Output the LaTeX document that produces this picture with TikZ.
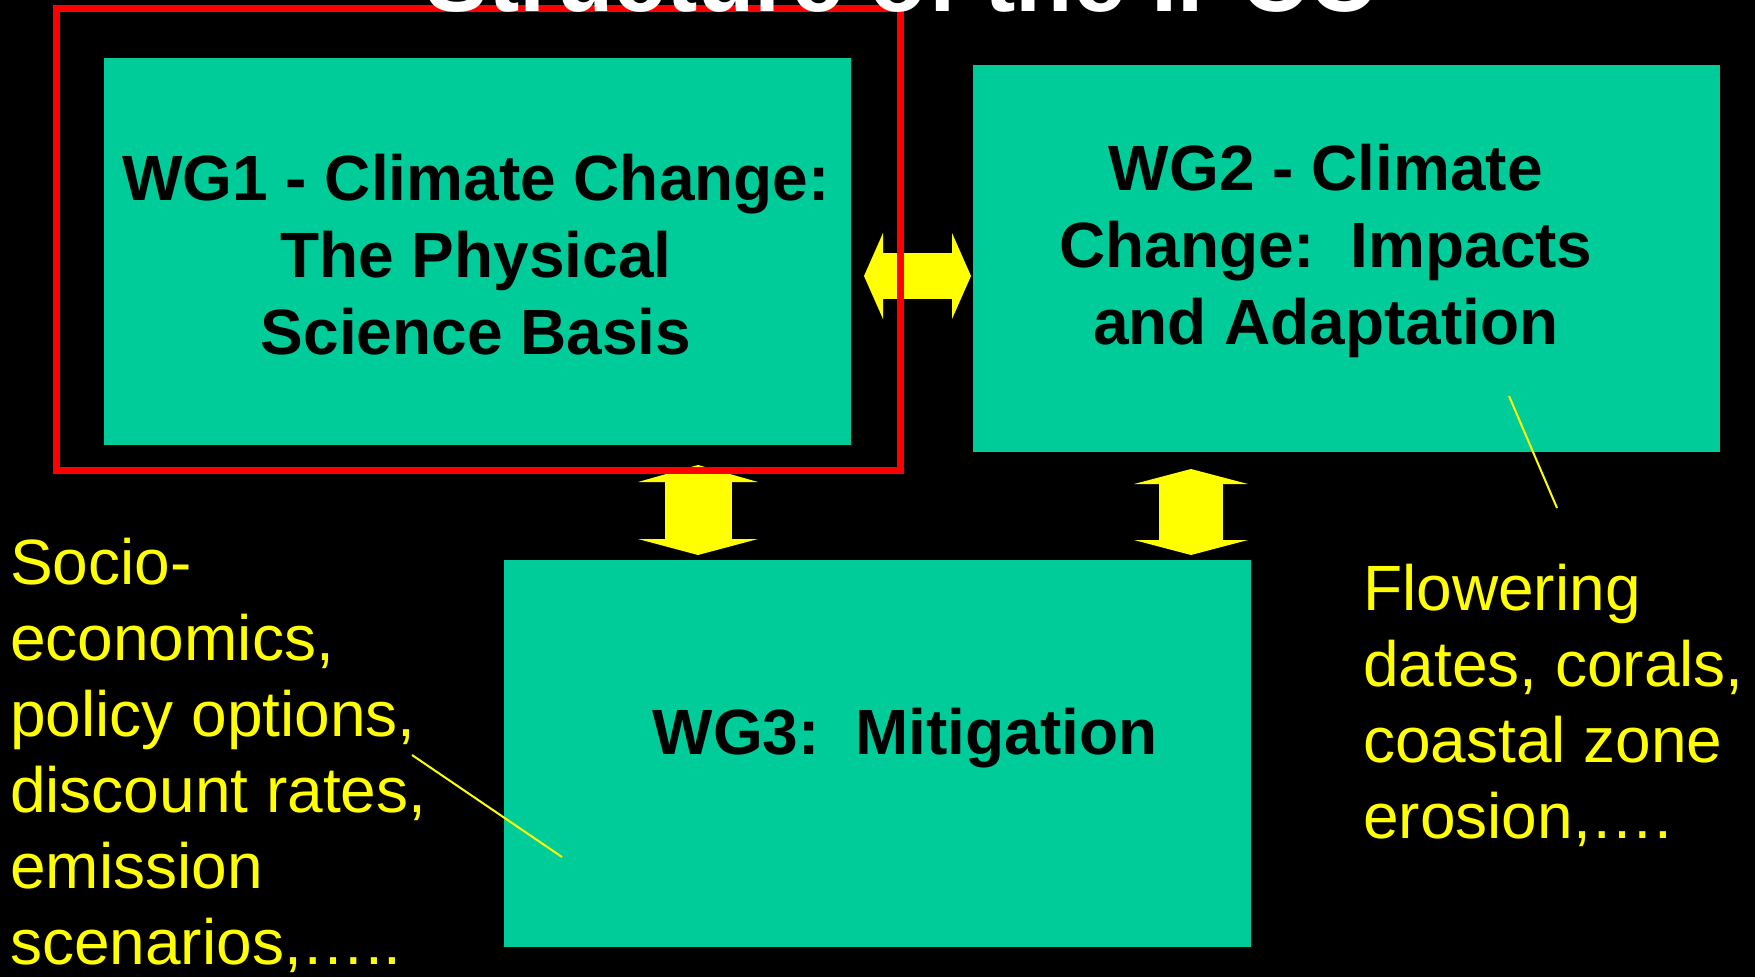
\documentclass[tikz,border=0pt]{standalone}
\usepackage{fontspec}
\setmainfont{Liberation Sans}
\usetikzlibrary{arrows.meta,positioning,calc}
\definecolor{wggreen}{RGB}{0,204,153}
\definecolor{noteyellow}{RGB}{255,255,0}

\begin{document}
\begin{tikzpicture}[x=1pt,y=-1pt,
    wg/.style={fill=wggreen,draw=none,inner sep=0pt,minimum width=747pt,minimum height=387pt},
    wgtext/.style={align=center,inner sep=0pt,font=\fontsize{64}{77}\selectfont\bfseries},
    note/.style={align=left,inner sep=0pt,anchor=base west,text=noteyellow,font=\fontsize{64}{76}\selectfont},
    pointer/.style={noteyellow,line width=2pt},
    fat/.style={noteyellow,line width=#1}]
    \clip (0,0) rectangle (1755,977);
    \fill[black] (0,0) rectangle (1755,977);

    % the three working groups
    \node [wg] (wg1) at (477,251.5) {};
    \node [wg,right=122pt of wg1,yshift=-7pt] (wg2) {};
    \node [wg] (wg3) at (877,753.5) {};
    \node [wgtext] (wg1t) at (476,254.5) {WG1 - Climate Change:\\The Physical\\Science Basis};
    \node [wgtext] (wg2t) at ([shift={(-20.5,-7.5)}]wg2.center) {WG2 - Climate\\Change:\ \ Impacts\\and Adaptation};
    \node [wgtext,anchor=base] (wg3t) at (905,754) {WG3:\ \ Mitigation};

    % block arrows between the groups
    \coordinate (h1) at (864,276);
    \coordinate (h2) at (971,276);
    \coordinate (v1) at (698,465);
    \coordinate (v2) at (698,555);
    \coordinate (w1) at (1191,469);
    \coordinate (w2) at (1191,555);
    \draw [fat=46pt,{Triangle[width=86pt,length=19pt,line width=0pt]}-{Triangle[width=86pt,length=19pt,line width=0pt]}] (h1) -- (h2);
    \draw [fat=67pt,{Triangle[width=120pt,length=17pt,line width=0pt]}-{Triangle[width=120pt,length=16pt,line width=0pt]}] (v1) -- (v2);
    \draw [fat=64pt,{Triangle[width=114pt,length=15pt,line width=0pt]}-{Triangle[width=114pt,length=15pt,line width=0pt]}] (w1) -- (w2);

    % highlight round WG1
    \draw [red,line width=7pt] (56,8) rectangle (900.5,470.5);

    % title, cut off by the top edge
    \node [anchor=base,inner sep=0pt,text=white,font=\fontsize{94}{100}\selectfont\bfseries] (title) at (901,12) {Structure of the IPCC};

    % notes (base = last line)
    \node [note] (socio) at (10,964) {Socio-\\economics,\\policy options,\\discount rates,\\emission\\scenarios,…..};
    \node [note] (flow) at (1363,838) {Flowering\\dates, corals,\\coastal zone\\erosion,….};
    \coordinate (s1) at (412,755);
    \coordinate (s2) at (562,857);
    \coordinate (f1) at (1509,396);
    \coordinate (f2) at (1557,508);
    \draw [pointer] (s1) -- (s2);
    \draw [pointer] (f1) -- (f2);
\end{tikzpicture}
\end{document}
